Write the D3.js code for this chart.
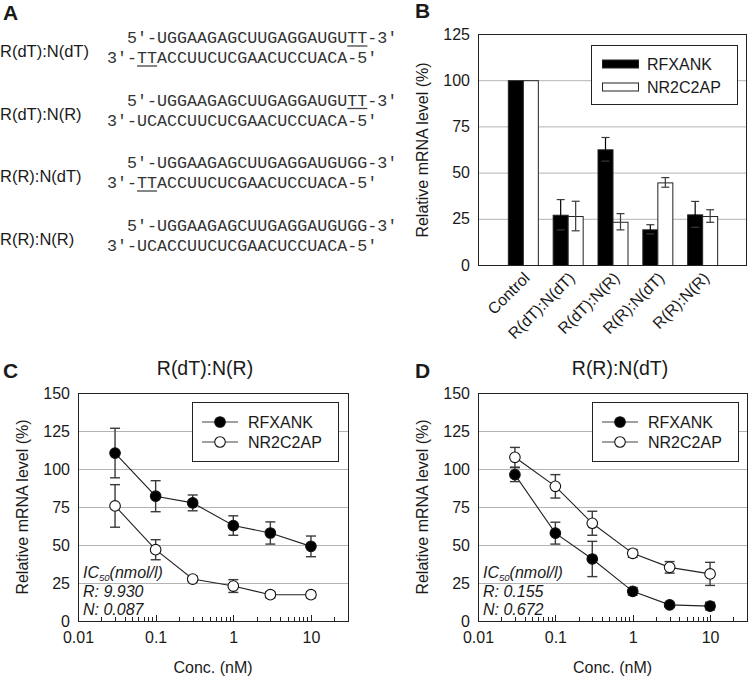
<!DOCTYPE html>
<html><head><meta charset="utf-8">
<script src="https://cdn.jsdelivr.net/npm/d3@7"></script>
<style>
body{margin:0;background:#fff}
svg{display:block}
text{font-family:Arial,"Liberation Sans",sans-serif;fill:#1a1a1a}
.seq{font-family:"Liberation Mono","DejaVu Sans Mono",monospace;font-size:16.7px;fill:#333}
</style>
</head><body><svg id="c" width="750" height="678"></svg>
<script>
// ---------- data ----------
const duplexNames = ["R(dT):N(dT)", "R(dT):N(R)", "R(R):N(dT)", "R(R):N(R)"];
const senseStrands = ["UGGAAGAGCUUGAGGAUGUTT", "UGGAAGAGCUUGAGGAUGUTT", "UGGAAGAGCUUGAGGAUGUGG", "UGGAAGAGCUUGAGGAUGUGG"];
const antisenseStrands = ["TTACCUUCUCGAACUCCUACA", "UCACCUUCUCGAACUCCUACA", "TTACCUUCUCGAACUCCUACA", "UCACCUUCUCGAACUCCUACA"];

const barCategories = ["Control", "R(dT):N(dT)", "R(dT):N(R)", "R(R):N(dT)", "R(R):N(R)"];
const barRfxank = [100, 27.2, 62.6, 19.3, 27.4];
const barRfxankErr = [0, 8.2, 6.4, 2.5, 7.0];
const barNr2c2ap = [100, 26.5, 23.4, 44.7, 26.5];
const barNr2c2apErr = [0, 8.0, 4.4, 2.6, 3.4];
const barTicks = [0, 25, 50, 75, 100, 125];

const concentrations = [0.03, 0.1, 0.3, 1, 3, 10];
const cRfxank = [110.5, 82.1, 77.7, 62.8, 57.9, 49.1];
const cRfxankErr = [16.3, 10.2, 5.2, 6.4, 7.3, 6.8];
const cNr2c2ap = [75.7, 46.9, 27.6, 23.0, 17.3, 17.3];
const cNr2c2apErr = [14.0, 6.6, 1.8, 4.2, 2.0, 2.0];
const dRfxank = [96.3, 57.8, 40.8, 19.5, 10.6, 9.8];
const dRfxankErr = [4.6, 7.2, 11.6, 2.5, 1.5, 2.5];
const dNr2c2ap = [107.7, 88.6, 64.3, 44.5, 35.3, 31.0];
const dNr2c2apErr = [6.5, 7.7, 7.9, 2.5, 3.8, 7.6];
const doseTicks = [0, 25, 50, 75, 100, 125, 150];
const concTicks = [0.01, 0.1, 1, 10];
const seriesNames = ["RFXANK", "NR2C2AP"];
const icC = ["R: 9.930", "N: 0.087"];
const icD = ["R: 0.155", "N: 0.672"];

// ---------- setup ----------
const svg = d3.select("#c");
const GRID = "#b4b4b4", FRAME = "#222", ERR = "#3a3a3a";

function letter(t, x, y) {
  svg.append("text").attr("x", x).attr("y", y).text(t)
    .style("font-size", "21px").style("font-weight", "bold");
}

// ---------- Panel A ----------
letter("A", 3, 20);
duplexNames.forEach((name, i) => {
  const y1 = 43 + i * 62.5;
  svg.append("text").attr("x", 0).attr("y", y1 + 14).text(name).style("font-size", "16.5px");
  const t1 = svg.append("text").attr("class", "seq").attr("x", 127).attr("y", y1)
    .text("5\u2032-" + senseStrands[i] + "-3\u2032");
  const t2 = svg.append("text").attr("class", "seq").attr("x", 107).attr("y", y1 + 20)
    .text("3\u2032-" + antisenseStrands[i] + "-5\u2032");
  const ul = (node, a, b, y) => {
    const x0 = node.getStartPositionOfChar(a).x, x1 = node.getEndPositionOfChar(b).x;
    svg.append("line").attr("x1", x0).attr("x2", x1).attr("y1", y).attr("y2", y)
      .attr("stroke", "#444").attr("stroke-width", 1.3);
  };
  const s = senseStrands[i], a = antisenseStrands[i];
  if (s.endsWith("TT")) ul(t1.node(), 3 + s.length - 2, 3 + s.length - 1, y1 + 3);
  if (a.startsWith("TT")) ul(t2.node(), 3, 4, y1 + 23);
});

// ---------- Panel B ----------
letter("B", 415, 18);
{
  const xB = d3.scalePoint().domain(["_s", ...barCategories, "_e"]).range([478, 747]);
  const yB = d3.scaleLinear().domain([0, 125]).range([265, 34]);
  const g = svg.append("g");
  g.selectAll(".grid").data(barTicks.slice(1, -1)).join("line")
    .attr("x1", 478).attr("x2", 747).attr("y1", d => yB(d) + .5).attr("y2", d => yB(d) + .5)
    .attr("stroke", GRID);
  const bw = 15;
  const series = [
    {v: barRfxank, e: barRfxankErr, fill: "#000", off: -bw},
    {v: barNr2c2ap, e: barNr2c2apErr, fill: "#fff", off: 0}
  ];
  series.forEach(se => {
    g.selectAll(null).data(barCategories).join("rect")
      .attr("x", (d) => xB(d) + se.off + .5).attr("width", bw)
      .attr("y", (d, i) => yB(se.v[i]) + .5).attr("height", (d, i) => yB(0) - yB(se.v[i]))
      .attr("fill", se.fill).attr("stroke", "#222").attr("stroke-width", 1);
  });
  series.forEach(se => {
    barCategories.forEach((c, i) => {
      if (!se.e[i]) return;
      const cx = xB(c) + se.off + bw / 2 + .5;
      const y0 = yB(se.v[i] - se.e[i]), y1 = yB(se.v[i] + se.e[i]);
      g.append("line").attr("x1", cx).attr("x2", cx).attr("y1", y0).attr("y2", y1)
        .attr("stroke", se.fill === "#000" ? "#000" : ERR).attr("stroke-width", 1.2);
      [y0, y1].forEach(yy => g.append("line").attr("x1", cx - 4).attr("x2", cx + 4)
        .attr("y1", yy).attr("y2", yy).attr("stroke", ERR).attr("stroke-width", 1.2));
    });
  });
  g.append("rect").attr("x", 478.5).attr("y", 34.5).attr("width", 268).attr("height", 231)
    .attr("fill", "none").attr("stroke", FRAME);
  const ax = g.append("g").attr("transform", "translate(478,0)")
    .call(d3.axisLeft(yB).tickValues(barTicks).tickSize(0).tickPadding(8));
  ax.select(".domain").remove();
  ax.selectAll("text").style("font-size", "16px").attr("fill", "#1a1a1a").style("font-family", "Arial");
  g.selectAll(".xl").data(barCategories).join("text")
    .attr("transform", d => `translate(${xB(d) + 8},${279}) rotate(-45)`)
    .attr("text-anchor", "end").text(d => d).style("font-size", "16px");
  g.append("text").attr("transform", "translate(428,150) rotate(-90)")
    .attr("text-anchor", "middle").text("Relative mRNA level (%)").style("font-size", "16px");
  // legend
  g.append("rect").attr("x", 591.5).attr("y", 45.5).attr("width", 146).attr("height", 59)
    .attr("fill", "#fff").attr("stroke", FRAME);
  series.forEach((se, i) => {
    const cy = 64 + i * 23;
    g.append("rect").attr("x", 602.5).attr("y", cy - 4).attr("width", 36).attr("height", 8)
      .attr("fill", se.fill).attr("stroke", "#222");
    g.append("text").attr("x", 647).attr("y", cy).attr("dy", "0.36em")
      .text(seriesNames[i]).style("font-size", "16px");
  });
}

// ---------- Panels C & D ----------
function dosePanel(opt) {
  const {L, R, title, titleX, rf, rfE, nr, nrE, ic, lab, labX} = opt;
  const T = 393, B = 621;
  letter(lab, labX, 378);
  svg.append("text").attr("x", titleX).attr("y", 375).attr("text-anchor", "middle")
    .text(title).style("font-size", "19.5px");
  const x = d3.scaleLog().domain([0.01, 30]).range([L, R]);
  const y = d3.scaleLinear().domain([0, 150]).range([B, T]);
  const g = svg.append("g");
  g.selectAll(null).data(doseTicks.slice(1, -1)).join("line")
    .attr("x1", L).attr("x2", R).attr("y1", d => Math.round(y(d)) + .5).attr("y2", d => Math.round(y(d)) + .5)
    .attr("stroke", GRID);
  // minor + major x ticks (inward)
  const allTicks = x.ticks(20).filter(t => t >= 0.01 && t <= 30);
  g.selectAll(null).data(allTicks).join("line")
    .attr("x1", d => Math.round(x(d)) + .5).attr("x2", d => Math.round(x(d)) + .5)
    .attr("y1", B).attr("y2", d => B - (concTicks.includes(+d.toPrecision(3)) ? 6 : 4))
    .attr("stroke", FRAME);
  g.append("rect").attr("x", L + .5).attr("y", T + .5).attr("width", R - L).attr("height", B - T)
    .attr("fill", "none").attr("stroke", FRAME);
  const ay = g.append("g").attr("transform", `translate(${L},0)`)
    .call(d3.axisLeft(y).tickValues(doseTicks).tickSize(0).tickPadding(8));
  ay.select(".domain").remove();
  ay.selectAll("text").style("font-size", "16px").attr("fill", "#1a1a1a").style("font-family", "Arial");
  const ax = g.append("g").attr("transform", `translate(0,${B})`)
    .call(d3.axisBottom(x).tickValues(concTicks).tickSize(0).tickPadding(11).tickFormat(d => String(d)));
  ax.select(".domain").remove();
  ax.selectAll("text").style("font-size", "16px").attr("fill", "#1a1a1a").style("font-family", "Arial");
  g.append("text").attr("x", (L + R) / 2).attr("y", 673).attr("text-anchor", "middle")
    .text("Conc. (nM)").style("font-size", "16px");
  g.append("text").attr("transform", `translate(${L - 50},${(T + B) / 2}) rotate(-90)`)
    .attr("text-anchor", "middle").text("Relative mRNA level (%)").style("font-size", "16px");
  // IC50 text
  const t0 = g.append("text").attr("x", L + 5).attr("y", 578).style("font-size", "16px").style("font-style", "italic");
  t0.append("tspan").text("IC");
  t0.append("tspan").attr("dy", 3).style("font-size", "9.5px").text("50");
  t0.append("tspan").attr("dy", -3).text("(nmol/l)");
  ic.forEach((s, i) => g.append("text").attr("x", L + 5).attr("y", 597 + i * 18)
    .style("font-size", "16px").style("font-style", "italic").text(s));
  // series
  const line = d3.line().x((d, i) => x(concentrations[i])).y(d => y(d));
  const ser = [{v: rf, e: rfE, fill: "#000"}, {v: nr, e: nrE, fill: "#fff"}];
  ser.forEach(s => g.append("path").attr("d", line(s.v)).attr("fill", "none")
    .attr("stroke", "#222").attr("stroke-width", 1.1));
  ser.forEach(s => {
    s.v.forEach((v, i) => {
      const cx = x(concentrations[i]);
      const y0 = y(v - s.e[i]), y1 = y(v + s.e[i]);
      g.append("line").attr("x1", cx).attr("x2", cx).attr("y1", y0).attr("y2", y1)
        .attr("stroke", ERR).attr("stroke-width", 1.4);
      [y0, y1].forEach(yy => g.append("line").attr("x1", cx - 5).attr("x2", cx + 5)
        .attr("y1", yy).attr("y2", yy).attr("stroke", ERR).attr("stroke-width", 1.4));
    });
  });
  ser.forEach(s => g.selectAll(null).data(s.v).join("circle")
    .attr("cx", (d, i) => x(concentrations[i])).attr("cy", d => y(d)).attr("r", 5.3)
    .attr("fill", s.fill).attr("stroke", "#111").attr("stroke-width", 1.1));
  // legend
  const lx = L + 114;
  g.append("rect").attr("x", lx + .5).attr("y", 402.5).attr("width", 146).attr("height", 59)
    .attr("fill", "#fff").attr("stroke", FRAME);
  ser.forEach((s, i) => {
    const cy = 422 + i * 20;
    g.append("line").attr("x1", lx + 10).attr("x2", lx + 46).attr("y1", cy).attr("y2", cy)
      .attr("stroke", "#444").attr("stroke-width", 1.1);
    g.append("circle").attr("cx", lx + 28).attr("cy", cy).attr("r", 5.3)
      .attr("fill", s.fill).attr("stroke", "#111").attr("stroke-width", 1.1);
    g.append("text").attr("x", lx + 56).attr("y", cy).attr("dy", "0.36em")
      .text(seriesNames[i]).style("font-size", "16px");
  });
}
dosePanel({L: 78, R: 348, title: "R(dT):N(R)", titleX: 205, rf: cRfxank, rfE: cRfxankErr,
  nr: cNr2c2ap, nrE: cNr2c2apErr, ic: icC, lab: "C", labX: 3});
dosePanel({L: 478, R: 747, title: "R(R):N(dT)", titleX: 620, rf: dRfxank, rfE: dRfxankErr,
  nr: dNr2c2ap, nrE: dNr2c2apErr, ic: icD, lab: "D", labX: 415});
</script>
</body></html>
